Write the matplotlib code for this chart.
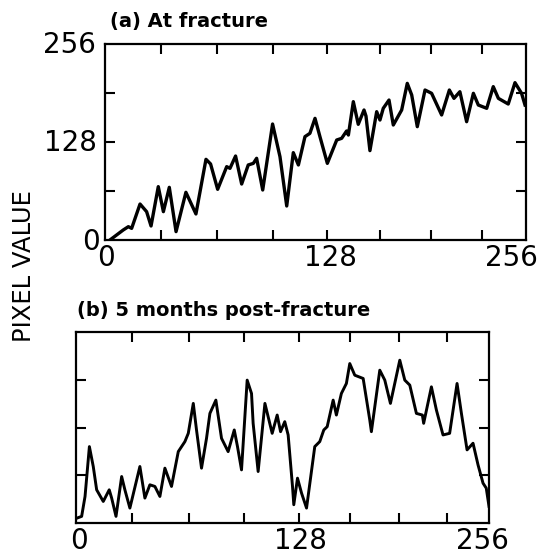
"""Pixel value profiles across a fracture site, two time points."""

import matplotlib

matplotlib.use("Agg")
import matplotlib.pyplot as plt

# (a) at fracture: position, pixel value
pos_a = [3.0, 11.1, 14.2, 16.2, 21.3, 25.3, 28.0, 32.4, 35.5, 39.1, 43.2, 49.2,
         55.3, 61.4, 64.2, 68.5, 74.0, 76.0, 79.4, 83.1, 87.1, 90.2, 92.2, 95.9,
         101.9, 106.4, 110.5, 114.5, 117.6, 121.6, 124.6, 127.7, 130.7, 135.2,
         140.9, 143.9, 146.9, 148.0, 151.0, 154.0, 157.5, 158.7, 161.1, 165.2,
         167.2, 169.2, 172.7, 175.3, 180.4, 183.8, 186.5, 189.9, 194.6, 198.6,
         204.7, 209.4, 212.2, 215.8, 219.9, 224.0, 227.0, 232.1, 236.1, 239.2,
         245.2, 249.3, 253.3, 255.4]
val_a = [0.0, 13.1, 17.4, 15.2, 47.0, 37.0, 18.3, 69.7, 37.0, 68.8, 10.9, 62.3,
         34.0, 105.4, 99.3, 66.2, 95.8, 93.6, 109.7, 73.1, 98.0, 100.1, 106.7,
         65.3, 151.5, 108.8, 44.4, 114.1, 98.0, 135.0, 139.3, 158.9, 135.0,
         100.1, 130.6, 132.8, 142.4, 137.1, 180.7, 151.1, 169.8, 161.9, 116.7,
         167.6, 156.7, 172.0, 182.8, 150.2, 169.8, 204.6, 189.4, 148.0, 195.9,
         191.6, 163.3, 195.9, 185.0, 193.7, 154.5, 191.6, 176.3, 172.0, 200.3,
         185.0, 177.6, 205.5, 191.6, 176.3]

# (b) 5 months post-fracture
pos_b = [0.8, 3.5, 5.6, 8.3, 10.7, 12.8, 16.9, 20.6, 22.1, 24.8, 28.3, 30.3,
         33.4, 39.6, 42.7, 45.8, 48.9, 52.0, 55.1, 59.2, 63.4, 67.5, 69.6, 72.7,
         74.7, 77.8, 80.9, 83.0, 86.7, 90.2, 94.3, 98.1, 100.1, 102.6, 106.1,
         108.8, 109.8, 112.9, 117.1, 121.6, 124.7, 126.8, 129.4, 131.5, 134.2,
         135.0, 137.3, 139.8, 142.9, 148.0, 151.1, 153.6, 155.7, 159.4, 161.4,
         164.5, 167.6, 169.7, 172.8, 178.0, 182.1, 183.1, 188.3, 191.4, 194.9,
         200.7, 203.8, 206.9, 211.0, 214.7, 215.5, 220.3, 223.4, 227.5, 231.6,
         236.2, 238.9, 242.4, 246.1, 249.2, 252.3, 254.3, 256.0]
val_b = [6.7, 8.9, 35.6, 102.4, 75.7, 44.5, 28.9, 44.5, 33.4, 8.9, 62.3, 44.5,
         20.0, 75.7, 33.4, 51.2, 49.0, 35.6, 73.5, 49.0, 95.7, 109.1, 120.2,
         160.3, 124.7, 73.5, 113.5, 146.9, 164.7, 113.5, 95.7, 124.7, 102.4,
         71.2, 191.5, 173.6, 133.6, 69.0, 160.3, 120.2, 144.7, 122.4, 135.8,
         118.0, 49.0, 24.5, 60.1, 40.1, 20.0, 102.4, 109.1, 124.7, 129.1, 164.7,
         144.7, 173.6, 187.0, 213.7, 198.1, 193.7, 138.0, 122.4, 204.8, 191.5,
         160.3, 218.2, 191.5, 184.8, 146.9, 144.7, 133.6, 182.5, 151.4, 118.0,
         120.2, 187.0, 146.9, 98.0, 106.9, 77.9, 53.4, 46.7, 22.3]

# tick marks (hand-drawn, not evenly spaced in the original)
xticks_a = [34, 68, 102, 135, 167, 198, 229]
xticks_b = [35, 70, 104, 138, 170, 200, 230]
yticks = [64, 128, 192]

W, H = 544, 555
NUM_SIZE = 20


def px(x, y):
    """Pixel position in the reference -> figure fraction."""
    return x / W, 1 - y / H


def style_axes(ax, xticks):
    ax.set_xlim(0, 256)
    ax.set_ylim(0, 256)
    ax.set_xticks(xticks)
    ax.set_yticks(yticks)
    ax.tick_params(direction="in", length=7, width=1.5, top=True, right=True,
                   labelbottom=False, labelleft=False)
    for s in ax.spines.values():
        s.set_linewidth(1.6)


fig = plt.figure(figsize=(W / 100, H / 100), dpi=100)

ax_a = fig.add_axes([105 / W, 315 / H, 421 / W, 196 / H])
ax_a.plot(pos_a, val_a, color="black", lw=2.4, solid_joinstyle="round")
style_axes(ax_a, xticks_a)

ax_b = fig.add_axes([76 / W, 32 / H, 413 / W, 191 / H])
ax_b.plot(pos_b, val_b, color="black", lw=2.1, solid_joinstyle="round")
style_axes(ax_b, xticks_b)

# number labels, placed by hand as in the original
for txt, (x, y), ha in [("256", (96, 45), "right"), ("128", (97, 143), "right"),
                        ("0", (100, 242), "right")]:
    fig.text(*px(x, y), txt, fontsize=NUM_SIZE, ha=ha, va="center")
for txt, x in [("0", 106), ("128", 330), ("256", 511)]:
    fig.text(*px(x, 258), txt, fontsize=NUM_SIZE, ha="center", va="center")
for txt, x in [("0", 79), ("128", 300), ("256", 482)]:
    fig.text(*px(x, 541), txt, fontsize=NUM_SIZE, ha="center", va="center")

fig.text(*px(110, 22), "(a) At fracture", fontsize=14, fontweight="bold",
         ha="left", va="center")
fig.text(*px(77, 310), "(b) 5 months post-fracture", fontsize=14,
         fontweight="bold", ha="left", va="center")
fig.text(*px(24, 266), "PIXEL VALUE", fontsize=17.5, rotation=90,
         ha="center", va="center")

fig.savefig("out.png", dpi=100)
plt.close(fig)
